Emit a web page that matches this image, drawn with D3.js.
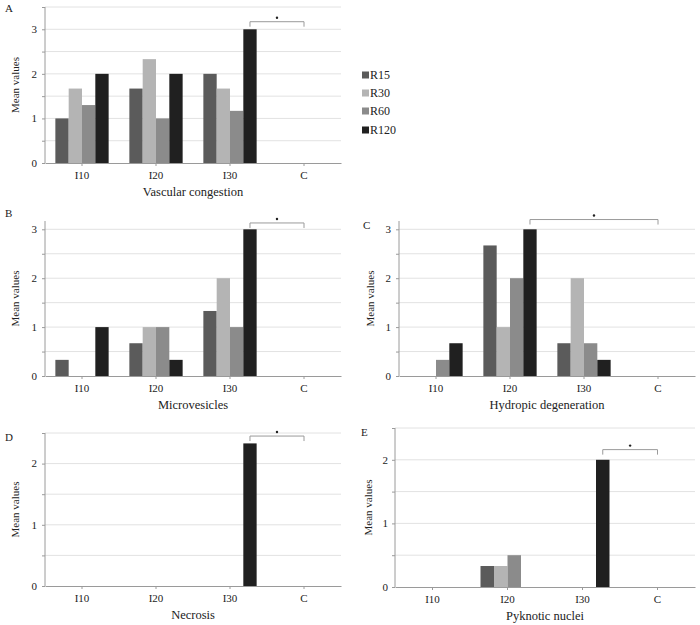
<!DOCTYPE html>
<html><head><meta charset="utf-8">
<script src="https://cdn.jsdelivr.net/npm/d3@7"></script>
<style>body{margin:0;background:#fff}svg{display:block}text{font-family:"Liberation Serif","Times New Roman",serif;fill:#222}</style>
</head><body>
<svg id="c" width="700" height="625"></svg>
<script>
const categories = ["I10","I20","I30","C"];
const seriesNames = ["R15","R30","R60","R120"];
const seriesColors = ["#5b5b5b","#b4b4b4","#8b8b8b","#202020"];
const yTicksLabels3 = [0,1,2,3];
const yTicksLabels2 = [0,1,2];

const vascular = [[1,1.67,2,0],[1.67,2.33,1.67,0],[1.3,1,1.17,0],[2,2,3,0]];
const microvesicles = [[0.33,0.67,1.33,0],[0,1,2,0],[0,1,1,0],[1,0.33,3,0]];
const hydropic = [[0,2.67,0.67,0],[0,1,2,0],[0.33,2,0.67,0],[0.67,3,0.33,0]];
const necrosis = [[0,0,0,0],[0,0,0,0],[0,0,0,0],[0,0,2.33,0]];
const pyknotic = [[0,0.33,0,0],[0,0.33,0,0],[0,0.5,0,0],[0,0,2,0]];

const titles = ["Vascular congestion","Microvesicles","Hydropic degeneration","Necrosis","Pyknotic nuclei"];
const letters = ["A","B","C","D","E"];
const bracketFrom = ["I30","I30","I20","I30","I30"];
const bracketLevel = [3.17,3.13,3.2,2.45,2.16];

const panels = [
 {data:vascular, x0:45, x1:341, y0:163, yTop:7, ymax:3.5, ticks:yTicksLabels3, letter:[5,12], ylab:15, tickX:37},
 {data:microvesicles, x0:45, x1:341, y0:376, yTop:221, ymax:3.17, ticks:yTicksLabels3, letter:[5,217], ylab:15, tickX:37},
 {data:hydropic, x0:399, x1:695, y0:376, yTop:221, ymax:3.17, ticks:yTicksLabels3, letter:[363,229], ylab:370, tickX:391},
 {data:necrosis, x0:45, x1:341, y0:586, yTop:433, ymax:2.5, ticks:yTicksLabels2, letter:[5,441], ylab:15, tickX:37},
 {data:pyknotic, x0:395, x1:695, y0:587, yTop:428, ymax:2.5, ticks:yTicksLabels2, letter:[361,436], ylab:368, tickX:388}
];

const svg = d3.select("#c");

panels.forEach((p,pi)=>{
  const g = svg.append("g");
  const x = d3.scaleBand().domain(categories).range([p.x0,p.x1]).paddingInner(0.28).paddingOuter(0.14);
  const xs = d3.scaleBand().domain(seriesNames).range([0,x.bandwidth()]);
  const y = d3.scaleLinear().domain([0,p.ymax]).range([p.y0,p.yTop]);
  // gridlines
  const grid = d3.range(0.5, p.ymax+0.001, 0.5);
  g.selectAll("line.grid").data(grid).enter().append("line")
    .attr("x1",p.x0).attr("x2",p.x1).attr("y1",d=>y(d)).attr("y2",d=>y(d))
    .attr("stroke","#e2e2e2").attr("stroke-width",1);
  // bars
  seriesNames.forEach((s,si)=>{
    g.selectAll("rect.s"+si).data(categories.map((c,ci)=>({c,v:p.data[si][ci]})).filter(d=>d.v>0))
      .enter().append("rect")
      .attr("x",d=>x(d.c)+xs(s)).attr("width",xs.bandwidth())
      .attr("y",d=>y(d.v)).attr("height",d=>y(0)-y(d.v))
      .attr("fill",seriesColors[si]);
  });
  // y axis
  const ya = d3.axisLeft(y).tickValues(d3.range(0,p.ymax+0.001,0.5)).tickSize(3).tickFormat("");
  const yg = g.append("g").attr("transform",`translate(${p.x0},0)`).call(ya);
  yg.select(".domain").attr("stroke","#9a9a9a").attr("d",`M0,${p.y0}V${p.yTop}`);
  yg.selectAll(".tick line").attr("stroke","#9a9a9a");
  g.selectAll("text.yt").data(p.ticks).enter().append("text")
    .attr("x",p.tickX).attr("y",d=>y(d)).attr("dy","0.35em").attr("text-anchor","end")
    .attr("font-size",11).text(d=>d);
  // x axis
  const xa = d3.axisBottom(x).tickSize(3).tickSizeOuter(0);
  const xg = g.append("g").attr("transform",`translate(0,${p.y0})`).call(xa);
  xg.select(".domain").attr("stroke","#9a9a9a");
  xg.selectAll(".tick line").attr("stroke","#9a9a9a");
  xg.selectAll(".tick text").attr("font-size",11).attr("font-family",'"Liberation Serif",serif').attr("fill","#222").attr("dy","0.9em");
  // titles
  g.append("text").attr("x",(p.x0+p.x1)/2).attr("y",p.y0+33).attr("text-anchor","middle")
    .attr("font-size",12.5).text(titles[pi]);
  g.append("text").attr("transform",`translate(${p.ylab},${(p.y0+p.yTop)/2}) rotate(-90)`)
    .attr("text-anchor","middle").attr("dy","0.35em").attr("font-size",11).text("Mean values");
  g.append("text").attr("x",p.letter[0]).attr("y",p.letter[1]).attr("font-size",11).text(letters[pi]);
  // bracket
  const bx1 = x(bracketFrom[pi]) + xs("R120") + xs.bandwidth()/2;
  const bx2 = x("C") + x.bandwidth()/2;
  const by = y(bracketLevel[pi]);
  g.append("path").attr("d",`M${bx1},${by+5}V${by}H${bx2}V${by+5}`)
    .attr("fill","none").attr("stroke","#9a9a9a").attr("stroke-width",1);
  g.append("circle").attr("cx",(bx1+bx2)/2).attr("cy",by-4).attr("r",1.2).attr("fill","#222");
});

// legend
const lg = svg.append("g");
seriesNames.forEach((s,i)=>{
  const yy = [75,93,111,130][i];
  lg.append("rect").attr("x",362).attr("y",yy-3.5).attr("width",7).attr("height",7).attr("fill",seriesColors[i]);
  lg.append("text").attr("x",370).attr("y",yy).attr("dy","0.35em").attr("font-size",12).text(s);
});
</script>
</body></html>
